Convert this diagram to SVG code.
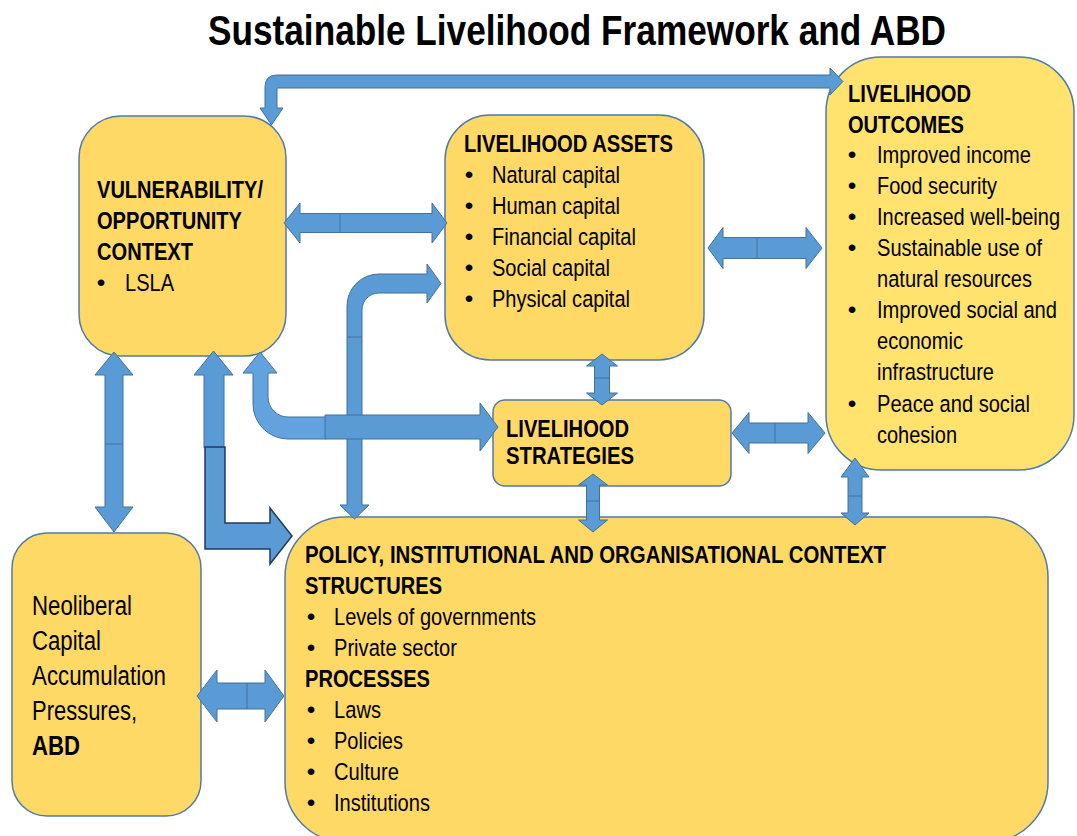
<svg xmlns="http://www.w3.org/2000/svg" width="1077" height="836" viewBox="0 0 1077 836">
  <style>
    .box { fill: #FFD966; stroke: #4F7BA8; stroke-width: 1.5; }
    .box-light { fill: #FFE36E; stroke: #4F7BA8; stroke-width: 1.5; }
    .arr { fill: #5B9BD5; stroke: #41719C; stroke-width: 1; stroke-linejoin: miter; }
    .arr-soft { fill: #62A3DF; stroke: #41719C; stroke-width: 1; }
    .arr-dark { fill: #5B9BD5; stroke: #203864; stroke-width: 1.5; }
    .seam { stroke: #41719C; stroke-width: 1; fill: none; }
    text { font-family: "Liberation Sans Narrow", "Arial Narrow", "Liberation Sans", Arial, sans-serif; fill: #000; }
    .t { font-size: 24.5px; }
    .b { font-size: 24.5px; font-weight: bold; }
    .n { font-size: 27px; }
    .title { font-size: 43px; font-weight: bold; }
  </style>

  <text class="title" x="577" y="45" text-anchor="middle" textLength="738" lengthAdjust="spacingAndGlyphs">Sustainable Livelihood Framework and ABD</text>

  <g id="vulnerability">
    <rect class="box" x="79" y="116" width="207" height="240" rx="42"/>
    <text class="b" x="97" y="198" textLength="166" lengthAdjust="spacingAndGlyphs">VULNERABILITY/</text>
    <text class="b" x="97" y="229" textLength="145" lengthAdjust="spacingAndGlyphs">OPPORTUNITY</text>
    <text class="b" x="97" y="260" textLength="96" lengthAdjust="spacingAndGlyphs">CONTEXT</text>
    <text class="t" x="101" y="291" text-anchor="middle">•</text>
    <text class="t" x="125" y="291" textLength="49" lengthAdjust="spacingAndGlyphs">LSLA</text>
  </g>

  <g id="assets">
    <rect class="box" x="445" y="115" width="259" height="245" rx="45"/>
    <text class="b" x="464" y="152" textLength="209" lengthAdjust="spacingAndGlyphs">LIVELIHOOD ASSETS</text>
    <g class="t">
      <text x="469" y="183" text-anchor="middle">•</text><text x="492" y="183" textLength="128" lengthAdjust="spacingAndGlyphs">Natural capital</text>
      <text x="469" y="214" text-anchor="middle">•</text><text x="492" y="214" textLength="128" lengthAdjust="spacingAndGlyphs">Human capital</text>
      <text x="469" y="245" text-anchor="middle">•</text><text x="492" y="245" textLength="144" lengthAdjust="spacingAndGlyphs">Financial capital</text>
      <text x="469" y="276" text-anchor="middle">•</text><text x="492" y="276" textLength="118" lengthAdjust="spacingAndGlyphs">Social capital</text>
      <text x="469" y="307" text-anchor="middle">•</text><text x="492" y="307" textLength="138" lengthAdjust="spacingAndGlyphs">Physical capital</text>
    </g>
  </g>

  <g id="outcomes">
    <rect class="box-light" x="826" y="57" width="248" height="413" rx="55"/>
    <text class="b" x="848" y="102" textLength="123" lengthAdjust="spacingAndGlyphs">LIVELIHOOD</text>
    <text class="b" x="848" y="133" textLength="116" lengthAdjust="spacingAndGlyphs">OUTCOMES</text>
    <g class="t">
      <text x="852" y="163" text-anchor="middle">•</text><text x="877" y="163" textLength="154" lengthAdjust="spacingAndGlyphs">Improved income</text>
      <text x="852" y="194" text-anchor="middle">•</text><text x="877" y="194" textLength="120" lengthAdjust="spacingAndGlyphs">Food security</text>
      <!-- right-anchored so the compressed line ends where it should -->
      <text x="852" y="225" text-anchor="middle">•</text><text x="1060" y="225" text-anchor="end" textLength="183" lengthAdjust="spacingAndGlyphs">Increased well-being</text>
      <text x="852" y="256" text-anchor="middle">•</text><text x="877" y="256" textLength="165" lengthAdjust="spacingAndGlyphs">Sustainable use of</text>
      <text x="877" y="287" textLength="155" lengthAdjust="spacingAndGlyphs">natural resources</text>
      <text x="852" y="318" text-anchor="middle">•</text><text x="1057" y="318" text-anchor="end" textLength="180" lengthAdjust="spacingAndGlyphs">Improved social and</text>
      <text x="877" y="349" textLength="86" lengthAdjust="spacingAndGlyphs">economic</text>
      <text x="877" y="380" textLength="117" lengthAdjust="spacingAndGlyphs">infrastructure</text>
      <text x="852" y="412" text-anchor="middle">•</text><text x="877" y="412" textLength="153" lengthAdjust="spacingAndGlyphs">Peace and social</text>
      <text x="877" y="443" textLength="80" lengthAdjust="spacingAndGlyphs">cohesion</text>
    </g>
  </g>

  <g id="strategies">
    <rect class="box" x="493" y="400" width="238" height="86" rx="12"/>
    <text class="b" x="506" y="437" textLength="123" lengthAdjust="spacingAndGlyphs">LIVELIHOOD</text>
    <text class="b" x="506" y="464" textLength="128" lengthAdjust="spacingAndGlyphs">STRATEGIES</text>
  </g>

  <g id="policy">
    <rect class="box" x="285" y="517" width="763" height="325" rx="60"/>
    <text class="b" x="305" y="563" textLength="581" lengthAdjust="spacingAndGlyphs">POLICY, INSTITUTIONAL AND ORGANISATIONAL CONTEXT</text>
    <text class="b" x="305" y="594" textLength="137" lengthAdjust="spacingAndGlyphs">STRUCTURES</text>
    <g class="t">
      <text x="311" y="625" text-anchor="middle">•</text><text x="334" y="625" textLength="202" lengthAdjust="spacingAndGlyphs">Levels of governments</text>
      <text x="311" y="656" text-anchor="middle">•</text><text x="334" y="656" textLength="123" lengthAdjust="spacingAndGlyphs">Private sector</text>
    </g>
    <text class="b" x="305" y="687" textLength="125" lengthAdjust="spacingAndGlyphs">PROCESSES</text>
    <g class="t">
      <text x="311" y="718" text-anchor="middle">•</text><text x="334" y="718" textLength="47" lengthAdjust="spacingAndGlyphs">Laws</text>
      <text x="311" y="749" text-anchor="middle">•</text><text x="334" y="749" textLength="69" lengthAdjust="spacingAndGlyphs">Policies</text>
      <text x="311" y="780" text-anchor="middle">•</text><text x="334" y="780" textLength="65" lengthAdjust="spacingAndGlyphs">Culture</text>
      <text x="311" y="811" text-anchor="middle">•</text><text x="334" y="811" textLength="96" lengthAdjust="spacingAndGlyphs">Institutions</text>
    </g>
  </g>

  <g id="pressures">
    <rect class="box" x="12" y="533" width="189" height="283" rx="35"/>
    <text class="n" x="32" y="615" textLength="100" lengthAdjust="spacingAndGlyphs">Neoliberal</text>
    <text class="n" x="32" y="650" textLength="69" lengthAdjust="spacingAndGlyphs">Capital</text>
    <text class="n" x="32" y="685" textLength="134" lengthAdjust="spacingAndGlyphs">Accumulation</text>
    <text class="n" x="32" y="720" textLength="105" lengthAdjust="spacingAndGlyphs">Pressures,</text>
    <text class="n" x="32" y="755" font-weight="bold" textLength="48" lengthAdjust="spacingAndGlyphs">ABD</text>
  </g>

  <!-- connectors, drawn over the boxes so the arrow tips overlap their edges -->
  <g id="connectors">
    <!-- top loop: vulnerability context to outcomes -->
    <path class="arr" d="M265,108 L265,87 Q265,75 277,75 L830,75 L830,68 L843,81.5 L830,95 L830,88 L277,88 L277,108 L283,108 L271.5,125 L260,108 Z"/>

    <!-- policy up to assets (bent) -->
    <path class="arr" d="M347,505 L347,306 A32,32 0 0 1 379,274 L427,274 L427,264 L441,283.5 L427,303 L427,293 L379,293 A17,17 0 0 0 362,310 L362,505 L369,505 L354.5,519 L340,505 Z"/>
    <line class="seam" x1="347" y1="337" x2="362" y2="337"/>

    <!-- vulnerability <-> assets -->
    <polygon class="arr" points="284,223 300,203 300,213.5 432,213.5 432,203 447,223 432,243 432,232.5 300,232.5 300,243"/>
    <line class="seam" x1="340" y1="213.5" x2="340" y2="232.5"/>

    <!-- assets <-> outcomes -->
    <polygon class="arr" points="708,248 723,227.5 723,237.5 806,237.5 806,227.5 822,248 806,268.5 806,258.5 723,258.5 723,268.5"/>
    <line class="seam" x1="757" y1="237.5" x2="757" y2="258.5"/>

    <!-- strategies <-> outcomes -->
    <polygon class="arr" points="732,433 749,412.5 749,423 808,423 808,412.5 825,433 808,453.5 808,443 749,443 749,453.5"/>
    <line class="seam" x1="775" y1="423" x2="775" y2="443"/>

    <!-- neoliberal pressures <-> policy -->
    <polygon class="arr" points="197,696 217,670 217,683 265,683 265,670 284,696 265,722 265,709 217,709 217,722"/>
    <line class="seam" x1="247" y1="683" x2="247" y2="709"/>

    <!-- vulnerability <-> neoliberal pressures -->
    <polygon class="arr" points="114,352 133,375 123,375 123,507 133,507 114,532 95,507 105,507 105,375 95,375"/>
    <line class="seam" x1="105" y1="444" x2="123" y2="444"/>

    <!-- assets <-> strategies -->
    <polygon class="arr" points="602,354 617.5,366 609.5,366 609.5,393 617.5,393 602,405 586.5,393 594.5,393 594.5,366 586.5,366"/>
    <line class="seam" x1="594.5" y1="378" x2="609.5" y2="378"/>

    <!-- strategies <-> policy -->
    <polygon class="arr" points="593,474 607.5,485 599.5,485 599.5,520 607.5,520 593,532 578.5,520 586.5,520 586.5,485 578.5,485"/>
    <line class="seam" x1="586.5" y1="501" x2="599.5" y2="501"/>

    <!-- outcomes <-> policy -->
    <polygon class="arr" points="855,458 869,477 862,477 862,513 869,513 855,525 841,513 848,513 848,477 841,477"/>
    <line class="seam" x1="848" y1="496" x2="862" y2="496"/>

    <!-- policy up to vulnerability context -->
    <polygon class="arr" points="213.5,351 233,375 224,375 224,448 204,448 204,375 194,375"/>
    <polygon class="arr-dark" points="205,447 225,447 225,523 270,523 270,508 292,536 270,564 270,549 205,549"/>

    <!-- bent arrow from vulnerability to strategies -->
    <path class="arr-soft" d="M260,352 L277,373 L268,373 L268,397 A20,20 0 0 0 288,417 L326,417 L326,439 L288,439 A35,35 0 0 1 253,404 L253,373 L243,373 Z"/>
    <polygon class="arr" points="325,415 480,415 480,403 498,427 480,451 480,439 325,439"/>
  </g>
</svg>
